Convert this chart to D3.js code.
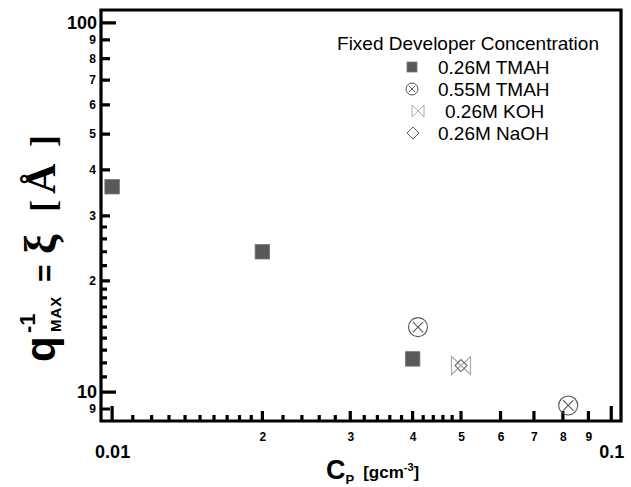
<!DOCTYPE html>
<html>
<head>
<meta charset="utf-8">
<script src="https://cdn.jsdelivr.net/npm/d3@7"></script>
<style>
  html, body { margin: 0; padding: 0; background: #fff; }
  svg { display: block; }
  .tick text { font-family: "Liberation Sans", Arial, sans-serif; font-weight: bold; fill: #000; }
</style>
</head>
<body>
<svg id="chart" width="631" height="487"></svg>
<script>
// Polymer concentration (g/cm^3) and correlation length (Å) per developer
const tmah026X = [0.01, 0.02, 0.04];
const tmah026Y = [36, 24, 12.3];
const tmah055X = [0.041, 0.082];
const tmah055Y = [15.0, 9.2];
const kohX = [0.05];
const kohY = [11.8];
const naohX = [0.05];
const naohY = [11.8];

const legendTitle = "Fixed Developer Concentration";
const legendLabels = ["0.26M TMAH", "0.55M TMAH", "0.26M KOH", "0.26M NaOH"];

// Axis tick values and labels
const xMajorTicks = [0.01, 0.1];
const xMajorLabels = ["0.01", "0.1"];
const xLabeledTicks = [0.02, 0.03, 0.04, 0.05, 0.06, 0.07, 0.08, 0.09];
const xLabeledText = ["2", "3", "4", "5", "6", "7", "8", "9"];
const xMinorTicks = [0.011, 0.012, 0.013, 0.014, 0.015, 0.016, 0.017, 0.018, 0.019,
                     0.022, 0.024, 0.026, 0.028, 0.032, 0.034, 0.036, 0.038,
                     0.042, 0.044, 0.046, 0.048];
const yMajorTicks = [10, 100];
const yMajorLabels = ["10", "100"];
const yLabeledTicks = [9, 20, 30, 40, 50, 60, 70, 80, 90];
const yLabeledText = ["9", "2", "3", "4", "5", "6", "7", "8", "9"];
const yMinorTicks = [11, 12, 13, 14, 15, 16, 17, 18, 19, 22, 24, 26, 28];

const xDomain = [0.0095, 0.1046];
const yDomain = [8.35, 108.4];

const svg = d3.select("#chart");
const plotL = 101, plotR = 621, plotT = 10, plotB = 421;

const x = d3.scaleLog().domain(xDomain).range([plotL, plotR]);
const y = d3.scaleLog().domain(yDomain).range([plotB, plotT]);

const sans = '"Liberation Sans", Arial, sans-serif';
const serif = '"Liberation Serif", "Times New Roman", serif';

// ---- Tick labels via d3 axes ----
function xLabels(values, labels, fontSize, pad) {
  const ax = d3.axisBottom(x).tickValues(values).tickSize(0).tickPadding(pad)
    .tickFormat((d, i) => labels[i]);
  const g = svg.append("g").attr("transform", `translate(0,${plotB})`).call(ax);
  g.select(".domain").remove();
  g.selectAll(".tick line").remove();
  g.selectAll(".tick text").style("font-size", fontSize + "px");
}
function yLabels(values, labels, fontSize, pad) {
  const ax = d3.axisLeft(y).tickValues(values).tickSize(0).tickPadding(pad)
    .tickFormat((d, i) => labels[i]);
  const g = svg.append("g").attr("transform", `translate(${plotL},0)`).call(ax);
  g.select(".domain").remove();
  g.selectAll(".tick line").remove();
  g.selectAll(".tick text").style("font-size", fontSize + "px");
}
xLabels(xLabeledTicks, xLabeledText, 12, 11);
xLabels(xMajorTicks, xMajorLabels, 18, 24);
yLabels(yLabeledTicks, yLabeledText, 12, 5);
yLabels(yMajorTicks, yMajorLabels, 18, 4);

// ---- Frame plus inward tick marks, as one stroked path ----
let frameD = `M${plotL},${plotT}H${plotR}V${plotB}H${plotL}Z`;
const addX = (vals, len) => vals.forEach(v => { frameD += `M${x(v)},${plotB}V${plotB - len}`; });
const addY = (vals, len) => vals.forEach(v => { frameD += `M${plotL},${y(v)}H${plotL + len}`; });
addX(xMinorTicks, 6);
addX(xLabeledTicks, 10);
addX(xMajorTicks, 15);
addY(yMinorTicks, 6);
addY(yLabeledTicks, 9);
addY(yMajorTicks, 15);
svg.append("path")
  .attr("d", frameD)
  .attr("fill", "none").attr("stroke", "#000").attr("stroke-width", 3.2);

// ---- Marker shapes ----
function drawSquare(g, cx, cy, s, fill) {
  g.append("rect").attr("x", cx - s / 2).attr("y", cy - s / 2)
    .attr("width", s).attr("height", s)
    .attr("fill", fill).attr("stroke", "#777").attr("stroke-width", 0.8);
}
function drawCircleX(g, cx, cy, r, color, sw) {
  g.append("circle").attr("cx", cx).attr("cy", cy).attr("r", r)
    .attr("fill", "none").attr("stroke", color).attr("stroke-width", sw);
  const k = r * 0.55;
  g.append("path")
    .attr("d", `M${cx - k},${cy - k}L${cx + k},${cy + k}M${cx + k},${cy - k}L${cx - k},${cy + k}`)
    .attr("stroke", color).attr("stroke-width", sw).attr("fill", "none");
}
function drawBowtie(g, cx, cy, w, h, color, sw) {
  g.append("path")
    .attr("d", `M${cx - w},${cy - h}L${cx + w},${cy + h}L${cx + w},${cy - h}L${cx - w},${cy + h}Z`)
    .attr("fill", "none").attr("stroke", color).attr("stroke-width", sw)
    .attr("stroke-linejoin", "miter");
}
function drawDiamond(g, cx, cy, r, color, sw) {
  g.append("path")
    .attr("d", `M${cx},${cy - r}L${cx + r},${cy}L${cx},${cy + r}L${cx - r},${cy}Z`)
    .attr("fill", "none").attr("stroke", color).attr("stroke-width", sw);
}

// ---- Data marks ----
const marks = svg.append("g");
tmah026X.forEach((v, i) => drawSquare(marks, x(v), y(tmah026Y[i]), 14.5, "#595959"));
tmah055X.forEach((v, i) => drawCircleX(marks, x(v), y(tmah055Y[i]), 9.5, "#555", 1.1));
kohX.forEach((v, i) => drawBowtie(marks, x(v), y(kohY[i]), 9.5, 9, "#aaa", 1.2));
naohX.forEach((v, i) => drawDiamond(marks, x(v), y(naohY[i]), 6, "#666", 1.1));

// ---- Legend ----
const lg = svg.append("g").attr("font-family", sans).attr("fill", "#000");
lg.append("text").attr("x", 468).attr("y", 50).attr("text-anchor", "middle")
  .style("font-size", "19px").text(legendTitle);
const rowY = [67, 89, 111, 133];
const rowX = [438, 438, 445, 438];
legendLabels.forEach((t, i) => {
  lg.append("text").attr("x", rowX[i]).attr("y", rowY[i] + 7)
    .style("font-size", "19px").text(t);
});
drawSquare(lg, 412, rowY[0], 10, "#595959");
drawCircleX(lg, 412, rowY[1], 6, "#555", 1);
drawBowtie(lg, 418, rowY[2], 6, 6, "#aaa", 1);
drawDiamond(lg, 413, rowY[3], 6, "#666", 1);

// ---- Axis titles ----
// y title runs bottom-to-top; each piece is placed along the rotated baseline
const yt = svg.append("text")
  .attr("transform", "translate(55,362) rotate(-90)")
  .attr("font-family", sans).attr("font-weight", "bold").attr("fill", "#000");
yt.append("tspan").attr("x", 0).attr("y", 0).style("font-size", "42px").text("q");
yt.append("tspan").attr("x", 29).attr("y", -20).style("font-size", "22px").text("-1");
yt.append("tspan").attr("x", 30).attr("y", 6).style("font-size", "15px")
  .style("letter-spacing", "1px").text("MAX");
yt.append("tspan").attr("x", 80).attr("y", 0).style("font-size", "30px").text("=");
yt.append("tspan").attr("x", 108).attr("y", 0).style("font-size", "44px")
  .attr("font-family", serif).text("ξ");
yt.append("tspan").attr("x", 150).attr("y", 0).style("font-size", "36px")
  .attr("font-family", serif).text("[");
yt.append("tspan").attr("x", 168).attr("y", 0).style("font-size", "42px")
  .attr("font-family", serif).text("Å");
yt.append("tspan").attr("x", 215).attr("y", 0).style("font-size", "36px")
  .attr("font-family", serif).text("]");

const xt = svg.append("text")
  .attr("x", 326).attr("y", 479)
  .attr("font-family", sans).attr("font-weight", "bold").attr("fill", "#000");
xt.append("tspan").style("font-size", "27px").text("C");
xt.append("tspan").style("font-size", "13px").attr("dy", 5).text("P");
xt.append("tspan").style("font-size", "17px").attr("dx", 9).attr("dy", -6).text("[gcm");
xt.append("tspan").style("font-size", "11px").attr("dy", -7).text("-3");
xt.append("tspan").style("font-size", "17px").attr("dy", 7).text("]");
</script>
</body>
</html>
